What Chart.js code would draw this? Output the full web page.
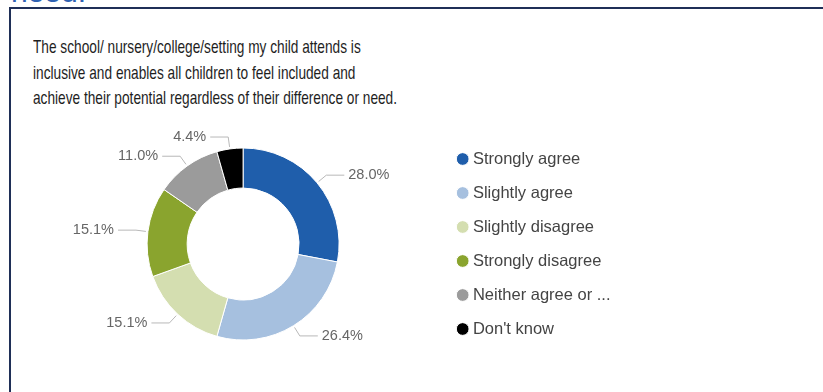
<!DOCTYPE html>
<html>
<head>
<meta charset="utf-8">
<script src="https://cdn.jsdelivr.net/npm/chart.js@4"></script>
<style>
  html, body { margin: 0; padding: 0; background: #ffffff; }
  body { width: 823px; height: 392px; position: relative; overflow: hidden;
         font-family: "Liberation Sans", Arial, sans-serif; }
  #heading { position: absolute; left: 11px; top: -25px; font-size: 30px; line-height: 34px;
             color: #2f62b3; white-space: nowrap; }
  #frame { position: absolute; left: 9px; top: 7px; width: 840px; height: 420px;
           border-left: 2px solid #1f2f57; border-top: 2px solid #1f2f57; background: #ffffff; }
  #title { position: absolute; left: 33px; top: 34px; font-size: 19px; line-height: 25.5px;
           color: #1e1e1e; transform: scaleX(0.72); transform-origin: 0 0; white-space: nowrap; }
  #wrap { position: absolute; left: 0; top: 109px; width: 700px; height: 270px; }
</style>
</head>
<body>
<div id="heading">need.</div>
<div id="frame"></div>
<div id="title">The school/ nursery/college/setting my child attends is<br>inclusive and enables all children to feel included and<br>achieve their potential regardless of their difference or need.</div>
<div id="wrap"><canvas id="donut" width="700" height="270"></canvas></div>
<script>
// Survey responses (percent of respondents)
const categories = ['Strongly agree', 'Slightly agree', 'Slightly disagree', 'Strongly disagree', 'Neither agree or ...', "Don't know"];
const shares = [28.0, 26.4, 15.1, 15.1, 11.0, 4.4];
const sliceColours = ['#1f5eab', '#a6c0df', '#d4deb0', '#8aa42e', '#9b9b9b', '#000000'];

const FONT = '"Liberation Sans", Arial, sans-serif';

// Percentage labels placed outside each slice with an elbow leader line
const leaderLabels = {
  id: 'leaderLabels',
  afterDatasetsDraw(chart) {
    const ctx = chart.ctx;
    const meta = chart.getDatasetMeta(0);
    const values = chart.data.datasets[0].data;
    ctx.save();
    ctx.font = '14.5px ' + FONT;
    ctx.textBaseline = 'middle';
    meta.data.forEach((arc, i) => {
      const p = arc.getProps(['x', 'y', 'startAngle', 'endAngle', 'outerRadius'], true);
      const mid = (p.startAngle + p.endAngle) / 2;
      const c = Math.cos(mid), s = Math.sin(mid);
      const x1 = p.x + c * (p.outerRadius + 2), y1 = p.y + s * (p.outerRadius + 2);
      const x2 = p.x + c * (p.outerRadius + 12), y2 = p.y + s * (p.outerRadius + 12);
      const dir = c >= 0 ? 1 : -1;
      const x3 = x2 + dir * 18;
      ctx.strokeStyle = '#b8b8b8';
      ctx.lineWidth = 1;
      ctx.beginPath();
      ctx.moveTo(x1, y1);
      ctx.lineTo(x2, y2);
      ctx.lineTo(x3, y2);
      ctx.stroke();
      ctx.fillStyle = '#666666';
      ctx.textAlign = dir > 0 ? 'left' : 'right';
      ctx.fillText(values[i].toFixed(1) + '%', x3 + dir * 4, y2);
    });
    ctx.restore();
  }
};

new Chart(document.getElementById('donut'), {
  type: 'doughnut',
  data: {
    labels: categories,
    datasets: [{
      data: shares,
      backgroundColor: sliceColours,
      borderColor: '#ffffff',
      borderWidth: 1,
      radius: 96
    }]
  },
  options: {
    responsive: false,
    animation: false,
    devicePixelRatio: 1,
    cutout: '58.3%',
    layout: { padding: { left: 43, top: 0, bottom: 0, right: 79.5 } },
    plugins: {
      legend: {
        position: 'right',
        align: 'center',
        labels: {
          usePointStyle: true,
          pointStyle: 'circle',
          boxWidth: 4,
          boxHeight: 9,
          padding: 17.5,
          color: '#444444',
          font: { size: 16.5, family: FONT }
        }
      },
      tooltip: { enabled: false }
    }
  },
  plugins: [leaderLabels]
});
</script>
</body>
</html>
